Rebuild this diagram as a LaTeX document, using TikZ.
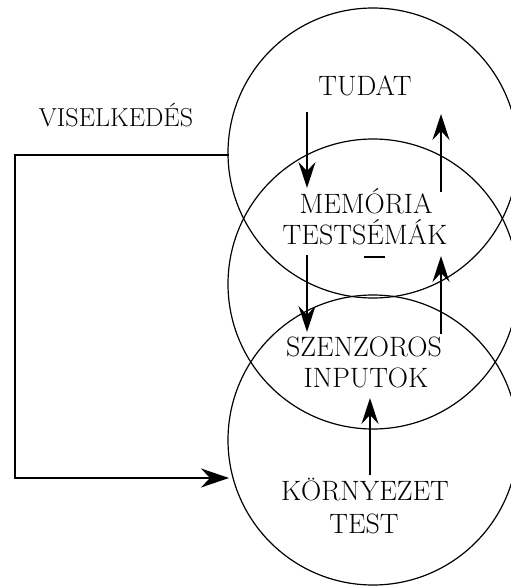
\documentclass[tikz,border=0pt]{standalone}
\usepackage{fontspec}
\usetikzlibrary{arrows.meta}
\begin{document}
\begin{tikzpicture}[x=1pt,y=-1pt,
  ring/.style={draw,circle,minimum size=290pt,inner sep=0pt,line width=1.2pt},
  lbl/.style={font=\fontsize{28}{32}\selectfont\addfontfeatures{LetterSpace=14},anchor=base,inner sep=0pt},
  flow/.style={line width=1.3pt,-{Stealth[length=26pt,width=17pt,inset=9pt]}},
  fb/.style={line width=1.6pt,-{Stealth[length=28pt,width=19pt,inset=9pt]}}]
\useasboundingbox (0,0) rectangle (511,586);
% circles
\node[ring] (c1) at (373,153) {};
\node[ring] (c2) at (373,284) {};
\node[ring] (c3) at (373,440) {};
% labels
\node[lbl] (tudat) at (365,95) {TUDAT};
\node[lbl] (mem) at (366,213) {MEMÓRIA};
\node[lbl] (tsk) at (365,244) {TESTSÉMÁK};
\node[lbl] (szen) at (364,356) {SZENZOROS};
\node[lbl] (inp) at (366,387) {INPUTOK};
\node[lbl] (korny) at (365,500) {KÖRNYEZET};
\node[lbl] (test) at (364,533) {TEST};
\node[lbl,font=\fontsize{26}{30}\selectfont\addfontfeatures{LetterSpace=22}] (visel) at (116,126) {VISELKEDÉS};
\draw[line width=1.5pt] (364,257) -- (385,257);
% arrows
\coordinate (d1s) at (307,112); \coordinate (d1e) at (307,188);
\coordinate (u1s) at (441,192); \coordinate (u1e) at (441,114);
\coordinate (d2s) at (307,255); \coordinate (d2e) at (307,332);
\coordinate (u2s) at (441,334); \coordinate (u2e) at (441,256);
\coordinate (u3s) at (370,475); \coordinate (u3e) at (370,398);
\draw[flow] (d1s) -- (d1e);
\draw[flow] (u1s) -- (u1e);
\draw[flow] (d2s) -- (d2e);
\draw[flow] (u2s) -- (u2e);
\draw[flow] (u3s) -- (u3e);
% feedback loop
\coordinate (ls) at (229,155);
\coordinate (lc1) at (15,155);
\coordinate (lc2) at (15,478);
\coordinate (le) at (229,478);
\draw[fb] (ls) -- (lc1) -- (lc2) -- (le);
\end{tikzpicture}
\end{document}
